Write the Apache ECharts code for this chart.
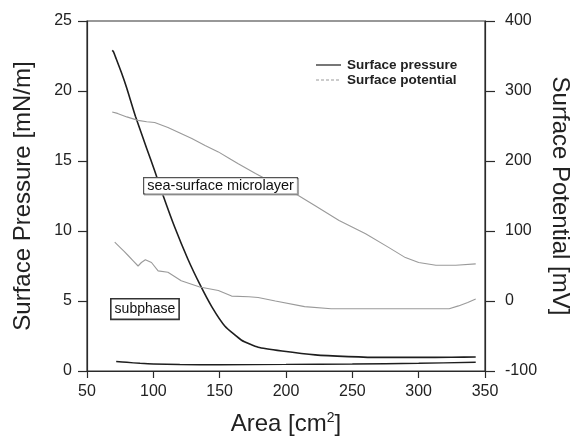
<!DOCTYPE html>
<html>
<head>
<meta charset="utf-8">
<script src="https://cdn.jsdelivr.net/npm/echarts@6/dist/echarts.min.js"></script>
<style>html,body{margin:0;padding:0;background:#fff}#c{width:573px;height:439px}</style>
</head>
<body>
<div id="c"></div>
<script>
// Sea-surface microlayer: surface pressure (mN/m)
var microArea = [69, 70, 72, 76, 80, 86.5, 95, 101, 107.5, 116, 126, 135, 144, 154, 166.5, 179, 197, 222, 247, 272, 300, 325, 343];
var microPressure = [22.9, 22.8, 22.3, 21.3, 20.2, 18.2, 15.9, 14.3, 12.5, 10.3, 8.0, 6.2, 4.6, 3.2, 2.2, 1.7, 1.43, 1.15, 1.03, 0.97, 0.97, 0.98, 1.0];
// Sea-surface microlayer: surface potential (mV)
var microPotArea = [69, 73, 80, 88.5, 95, 101, 111, 120, 129, 139, 149, 157, 164, 177, 193, 209, 222, 240, 260, 277, 290, 300, 313, 328, 343];
var microPotential = [270, 268, 263, 258, 256, 255, 248, 240, 232, 222, 213, 204, 196, 182, 166, 151, 136, 115, 96, 77, 62, 55, 51, 51, 53];
// Subphase: surface pressure (mN/m)
var subArea = [72, 80, 90, 100, 120, 150, 200, 250, 300, 343];
var subPressure = [0.68, 0.62, 0.55, 0.5, 0.46, 0.45, 0.47, 0.5, 0.55, 0.62];
// Subphase: surface potential (mV)
var subPotArea = [70.9, 72, 74.7, 78, 81, 85, 88.5, 91, 94, 98.6, 103.6, 111, 121, 135, 149, 159, 172, 179, 192, 214, 234, 255, 285, 323, 330, 337, 343];
var subPotential = [84, 82, 77, 71, 65, 57, 50, 55, 59, 55, 43, 41, 29, 20, 15, 7, 6, 5, 0, -8, -11, -11, -11, -11, -7, -2, 3];
// Axis ticks
var xTicks = [50, 100, 150, 200, 250, 300, 350];
var pressureTicks = [0, 5, 10, 15, 20, 25];
var potentialTicks = [-100, 0, 100, 200, 300, 400];
// Texts
var legendNames = ['Surface pressure', 'Surface potential'];
var labelMicro = 'sea-surface microlayer';
var labelSub = 'subphase';

function pairs(xs, ys) { return xs.map(function (x, i) { return [x, ys[i]]; }); }

var FONT = "'Liberation Sans', Arial, Helvetica, sans-serif";
var dark = '#1e1e1e';
var grey = '#9a9a9a';
var axisColor = '#2a2a2a';
var chart = echarts.init(document.getElementById('c'), null, { renderer: 'canvas' });
function axisBase(tickLen, margin) {
  return {
    axisLine: { show: true, lineStyle: { color: axisColor, width: 1.2 } },
    axisTick: { show: true, inside: false, length: tickLen, lineStyle: { color: axisColor, width: 1.2 } },
    axisLabel: { color: '#222', fontSize: 16, fontFamily: FONT, margin: margin },
    splitLine: { show: false },
    nameTextStyle: { color: '#222', fontSize: 24, fontFamily: FONT }
  };
}
chart.setOption({
  animation: false,
  backgroundColor: '#fff',
  grid: { left: 87, right: 88, top: 21, bottom: 68, containLabel: false, outerBoundsMode: 'none', show: true, borderColor: '#333', borderWidth: 1.2, backgroundColor: 'transparent' },
  xAxis: Object.assign(axisBase(7, 13), {
    type: 'value', min: xTicks[0], max: xTicks[xTicks.length - 1], interval: 50,
    name: 'Area [cm{sup|2}]', nameLocation: 'middle', nameGap: 40,
    nameTextStyle: { color: '#222', fontSize: 24, fontFamily: FONT, rich: { sup: { fontSize: 14, verticalAlign: 'top', padding: [0, 0, 12, 0], fontFamily: FONT, color: '#222' } } }
  }),
  yAxis: [
    Object.assign(axisBase(9, 15), {
      type: 'value', min: pressureTicks[0], max: pressureTicks[pressureTicks.length - 1], interval: 5, position: 'left',
      name: 'Surface Pressure [mN/m]', nameLocation: 'middle', nameGap: 52
    }),
    Object.assign(axisBase(10, 20), {
      type: 'value', min: potentialTicks[0], max: potentialTicks[potentialTicks.length - 1], interval: 100, position: 'right',
      name: 'Surface Potential [mV]', nameLocation: 'middle', nameGap: 63, nameRotate: -90
    })
  ],
  series: [
    { name: legendNames[0], type: 'line', yAxisIndex: 0, data: pairs(microArea, microPressure), showSymbol: false, symbol: 'none', smooth: 0.15, lineStyle: { color: dark, width: 1.6 }, itemStyle: { color: dark } },
    { name: legendNames[0], type: 'line', yAxisIndex: 0, data: pairs(subArea, subPressure), showSymbol: false, symbol: 'none', smooth: 0.3, lineStyle: { color: dark, width: 1.4 }, itemStyle: { color: dark } },
    { name: legendNames[1], type: 'line', yAxisIndex: 1, data: pairs(microPotArea, microPotential), showSymbol: false, symbol: 'none', lineStyle: { color: grey, width: 1.1 }, itemStyle: { color: grey } },
    { name: legendNames[1], type: 'line', yAxisIndex: 1, data: pairs(subPotArea, subPotential), showSymbol: false, symbol: 'none', lineStyle: { color: grey, width: 1.1 }, itemStyle: { color: grey } }
  ],
  graphic: [
    { type: 'line', shape: { x1: 316, y1: 65, x2: 341, y2: 65 }, style: { stroke: '#555', lineWidth: 1.6 }, z: 100 },
    { type: 'line', shape: { x1: 316, y1: 80, x2: 341, y2: 80 }, style: { stroke: '#999', lineWidth: 1.2, lineDash: [3, 2] }, z: 100 },
    { type: 'text', x: 347, y: 65, z: 100, style: { text: legendNames[0], font: 'bold 13.5px ' + FONT, fill: '#222', verticalAlign: 'middle' } },
    { type: 'text', x: 347, y: 80, z: 100, style: { text: legendNames[1], font: 'bold 13.5px ' + FONT, fill: '#222', verticalAlign: 'middle' } },
    { type: 'text', left: 143, top: 177, z: 100,
      style: { text: labelMicro, font: '14.5px ' + FONT, lineHeight: 14, fill: '#111', backgroundColor: '#fff', borderColor: '#555', borderWidth: 1.2, padding: [1, 3, 0, 3],
        shadowColor: '#aaa', shadowOffsetX: 1, shadowOffsetY: 1 } },
    { type: 'text', left: 110, top: 298, z: 100,
      style: { text: labelSub, font: '14px ' + FONT, lineHeight: 14, fill: '#111', backgroundColor: '#fff', borderColor: '#333', borderWidth: 1.6, padding: [3, 3, 2, 3] } }
  ]
});
</script>
</body>
</html>
